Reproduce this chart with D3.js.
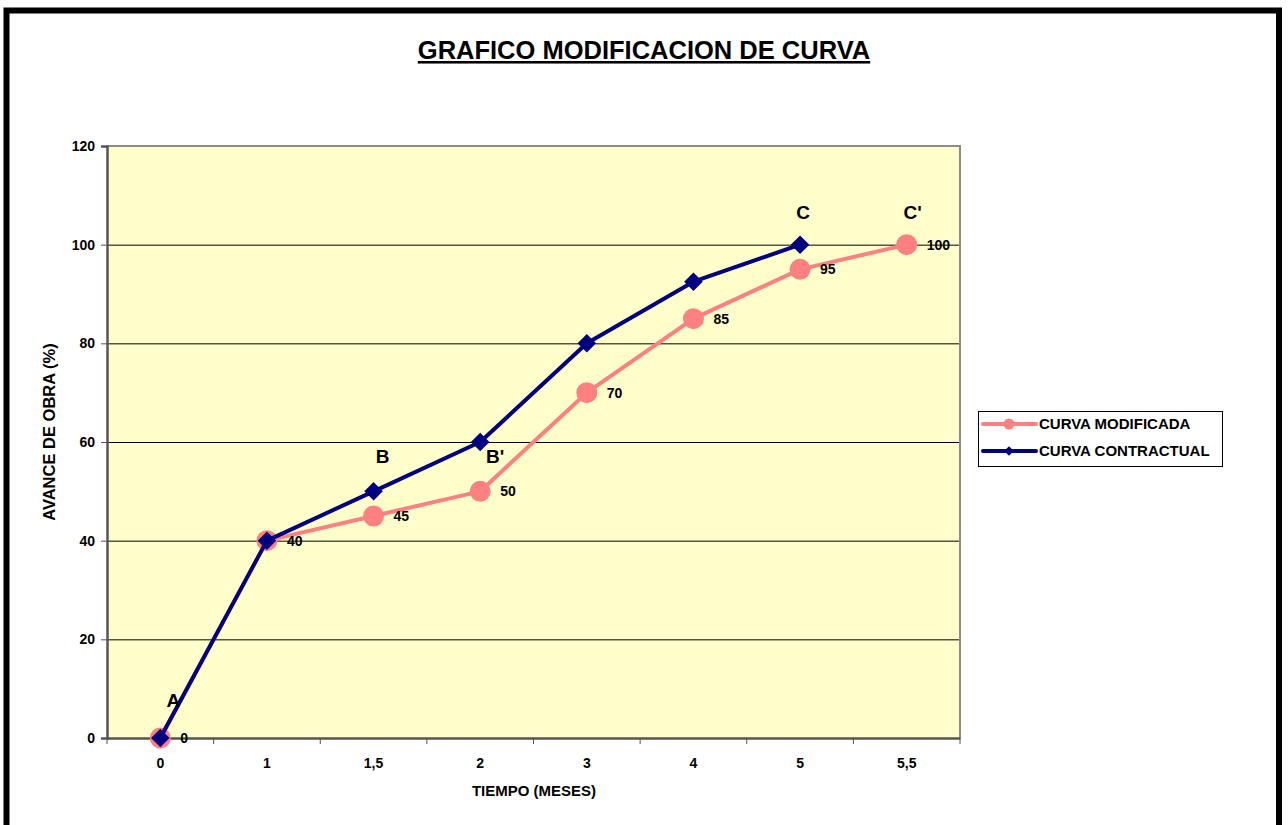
<!DOCTYPE html>
<html><head><meta charset="utf-8">
<script src="https://cdn.jsdelivr.net/npm/d3@7"></script>
<style>body{margin:0;background:#fff;} svg{display:block;font-family:"Liberation Sans",Arial,sans-serif;}</style>
</head><body>
<script>
const categories = ["0","1","1,5","2","3","4","5","5,5"];
const modificada = [0,40,45,50,70,85,95,100];
const contractual = [0,40,50,60,80,92.5,100];
const yTicks = [0,20,40,60,80,100,120];
const pointLetters = [
  {cat:"0", val:0, text:"A", dx:13, dy:-31},
  {cat:"1,5", val:50, text:"B", dx:9, dy:-28},
  {cat:"2", val:60, text:"B'", dx:15, dy:21},
  {cat:"5", val:100, text:"C", dx:3, dy:-26},
  {cat:"5,5", val:100, text:"C'", dx:6, dy:-26}
];
const seriesNames = ["CURVA MODIFICADA","CURVA CONTRACTUAL"];

const W=1288,H=825;
const svg=d3.select("body").append("svg").attr("width",W).attr("height",H);
svg.append("rect").attr("width",W).attr("height",H).attr("fill","#fff");

svg.append("path").attr("d","M6.5,825 V10.5 H1279 V825").attr("fill","none").attr("stroke","#000").attr("stroke-width",6);

const L=107,R=960,T=146,B=738;
const x=d3.scaleBand().domain(categories).range([L,R]);
const y=d3.scaleLinear().domain([0,120]).range([B,T]);
const cx=c=>x(c)+x.bandwidth()/2;

svg.append("text").attr("x",644).attr("y",59).attr("text-anchor","middle")
  .attr("font-size",25.5).attr("font-weight","bold").attr("text-decoration","underline").text("GRAFICO MODIFICACION DE CURVA");

svg.append("rect").attr("x",L).attr("y",T).attr("width",R-L).attr("height",B-T).attr("fill","#FFFFCC");

svg.append("g").selectAll("line").data(yTicks.filter(v=>v>0&&v<120)).join("line")
  .attr("x1",L).attr("x2",R).attr("y1",d=>y(d)+0.5).attr("y2",d=>y(d)+0.5).attr("stroke","#000").attr("stroke-width",1);

svg.append("path").attr("d",`M${L},${T} H${R} V${B}`).attr("fill","none").attr("stroke","#8c8c8c").attr("stroke-width",2);

const yAxis=svg.append("g").attr("transform",`translate(${L},0)`)
  .call(d3.axisLeft(y).tickValues(yTicks).tickSize(6).tickPadding(6));
const xAxis=svg.append("g").attr("transform",`translate(0,${B})`)
  .call(d3.axisBottom(x).tickSize(0).tickPadding(20));
[yAxis,xAxis].forEach(g=>{
  g.select(".domain").attr("stroke","#555").attr("stroke-width",2.5);
  g.selectAll("text").attr("font-size",14).attr("font-weight","bold").attr("fill","#000").attr("font-family","Liberation Sans, Arial, sans-serif");
  g.selectAll(".tick line").attr("stroke","#555");
});
svg.append("g").selectAll("line").data(categories.concat(["__end"])).join("line")
  .attr("x1",(d,i)=>i<categories.length?x(d):R).attr("x2",(d,i)=>i<categories.length?x(d):R)
  .attr("y1",B).attr("y2",B+6).attr("stroke","#555").attr("stroke-width",1);

svg.append("text").attr("x",534).attr("y",796).attr("text-anchor","middle").attr("font-size",15).attr("font-weight","bold").text("TIEMPO (MESES)");
svg.append("text").attr("transform","translate(55,432) rotate(-90)").attr("text-anchor","middle").attr("font-size",16.5).attr("font-weight","bold").text("AVANCE DE OBRA (%)");

const line=d3.line().x((d,i)=>cx(categories[i])).y(d=>y(d));
const pink="#FF8080", navy="#000080";

svg.append("path").datum(modificada).attr("d",line).attr("fill","none").attr("stroke",pink).attr("stroke-width",4).attr("stroke-linejoin","round");
svg.append("g").selectAll("circle").data(modificada).join("circle")
  .attr("cx",(d,i)=>cx(categories[i])).attr("cy",d=>y(d)).attr("r",10.5).attr("fill",pink);

svg.append("path").datum(contractual).attr("d",line).attr("fill","none").attr("stroke",navy).attr("stroke-width",4).attr("stroke-linejoin","round");
const diamond=d3.symbol().type(d3.symbolDiamond2).size(220);
svg.append("g").selectAll("path").data(contractual).join("path")
  .attr("transform",(d,i)=>`translate(${cx(categories[i])},${y(d)})`).attr("d",diamond).attr("fill",navy);

svg.append("g").selectAll("text").data(modificada).join("text")
  .attr("x",(d,i)=>cx(categories[i])+20).attr("y",d=>y(d)+5)
  .attr("font-size",14).attr("font-weight","bold").text(d=>d);

svg.append("g").selectAll("text").data(pointLetters).join("text")
  .attr("x",d=>cx(d.cat)+d.dx).attr("y",d=>y(d.val)+d.dy).attr("text-anchor","middle")
  .attr("font-size",19).attr("font-weight","bold").text(d=>d.text);

const lg=svg.append("g");
lg.append("rect").attr("x",978.5).attr("y",411.5).attr("width",244).attr("height",55).attr("fill","#fff").attr("stroke","#000").attr("stroke-width",1);
const items=[{n:seriesNames[0],c:pink,s:"circle"},{n:seriesNames[1],c:navy,s:"diamond"}];
items.forEach((it,i)=>{
  const yy=424+i*27;
  lg.append("line").attr("x1",983).attr("x2",1036).attr("y1",yy).attr("y2",yy).attr("stroke",it.c).attr("stroke-width",4).attr("stroke-linecap","round");
  if(it.s==="circle") lg.append("circle").attr("cx",1009).attr("cy",yy).attr("r",5.5).attr("fill",it.c);
  else lg.append("path").attr("transform",`translate(1009,${yy})`).attr("d",d3.symbol().type(d3.symbolDiamond2).size(60)).attr("fill",it.c);
  lg.append("text").attr("x",1039).attr("y",yy+5).attr("font-size",15).attr("font-weight","bold").text(it.n);
});
</script>
</body></html>
